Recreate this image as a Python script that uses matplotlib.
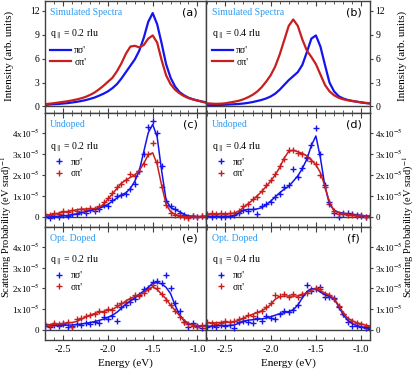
import numpy as np
import matplotlib
matplotlib.use('Agg')
import matplotlib.pyplot as plt
from matplotlib.ticker import MultipleLocator, FuncFormatter

plt.rcParams['font.family'] = ['Liberation Serif', 'DejaVu Serif']
plt.rcParams['mathtext.fontset'] = 'stix'

# energy grid (eV)
energy = np.round(np.linspace(-2.70, -0.90, 37), 2)

# simulated spectra (arb. units)
sim_a_pisig = [0.2, 0.25, 0.28, 0.32, 0.37, 0.42, 0.5, 0.58, 0.68, 0.8, 0.95, 1.12, 1.35, 1.6, 1.9,
               2.3, 2.8, 3.5, 4.3, 5.1, 5.9, 7.0, 8.6, 10.6, 11.7, 10.3, 7.9, 5.3, 3.6, 2.5, 1.8,
               1.4, 1.1, 0.9, 0.75, 0.62, 0.52]
sim_a_sigpi = [0.3, 0.35, 0.42, 0.5, 0.58, 0.66, 0.76, 0.88, 1.02, 1.2, 1.45, 1.75, 2.15, 2.6, 3.1,
               3.6, 4.4, 5.4, 6.6, 7.5, 7.6, 7.4, 7.7, 8.5, 8.9, 8.0, 5.8, 3.9, 2.8, 2.1, 1.65,
               1.3, 1.05, 0.88, 0.74, 0.6, 0.45]
sim_b_pisig = [0.15, 0.16, 0.18, 0.2, 0.22, 0.25, 0.28, 0.32, 0.37, 0.45, 0.55, 0.68, 0.82, 1.0, 1.25,
               1.6, 2.1, 2.7, 3.3, 3.8, 4.3, 5.2, 6.8, 8.5, 8.9, 7.5, 5.2, 3.0, 1.9, 1.3, 1.0,
               0.82, 0.7, 0.6, 0.5, 0.42, 0.36]
sim_b_sigpi = [0.4, 0.35, 0.33, 0.35, 0.4, 0.5, 0.6, 0.72, 0.9, 1.15, 1.45, 1.85, 2.4, 3.1, 3.9,
               5.0, 6.5, 8.3, 10.1, 10.9, 10.1, 8.4, 7.0, 6.2, 5.3, 4.0, 2.7, 1.9, 1.4, 1.1, 0.9,
               0.78, 0.68, 0.6, 0.52, 0.45, 0.4]

# scattering probability, units of 1e-5 (eV srad)^-1 : fits and data points
c_fit_pisig = [0.0, 0.0, 0.02, 0.03, 0.05, 0.07, 0.1, 0.15, 0.2, 0.25, 0.3, 0.37, 0.42, 0.48, 0.6,
               0.75, 0.9, 1.05, 1.15, 1.35, 1.7, 2.2, 3.1, 4.0, 4.4, 3.8, 2.2, 0.8, 0.45, 0.35, 0.25,
               0.12, 0.05, 0.03, 0.02, 0.02, 0.03]
c_fit_sigpi = [0.08, 0.1, 0.14, 0.18, 0.22, 0.26, 0.3, 0.34, 0.37, 0.38, 0.38, 0.4, 0.45, 0.6, 0.85,
               1.1, 1.35, 1.6, 1.75, 1.88, 2.0, 2.2, 2.55, 2.95, 3.05, 2.5, 1.5, 0.6, 0.25, 0.12, 0.06,
               0.02, 0.0, 0.0, 0.0, 0.0, 0.02]
c_dat_pisig = [0.0, -0.03, 0.03, 0.0, 0.08, 0.05, 0.15, 0.12, 0.25, 0.2, 0.35, 0.3, 0.4, 0.55, 0.5,
               0.8, 1.0, 1.05, 1.1, 1.35, 1.55, 2.2, 3.0, 4.3, 4.55, 4.0, 2.4, 0.75, 0.5, 0.4, 0.2,
               0.08, 0.0, 0.05, -0.02, 0.05, 0.0]
c_dat_sigpi = [0.12, 0.1, 0.18, 0.15, 0.28, 0.25, 0.35, 0.3, 0.4, 0.35, 0.42, 0.38, 0.5, 0.7, 0.9,
               1.15, 1.4, 1.55, 1.75, 2.05, 1.95, 2.2, 2.5, 3.0, 3.5, 2.6, 1.4, 0.55, 0.2, 0.1, 0.05,
               0.0, -0.05, 0.05, 0.0, 0.05, 0.05]

d_fit_pisig = [0.03, 0.03, 0.03, 0.03, 0.03, 0.03, 0.06, 0.18, 0.32, 0.36, 0.35, 0.38, 0.44, 0.58, 0.75,
               0.95, 1.15, 1.32, 1.45, 1.7, 1.95, 2.3, 2.75, 3.4, 3.85, 2.8, 1.45, 0.6, 0.32, 0.22, 0.18,
               0.14, 0.12, 0.1, 0.07, 0.05, 0.03]
d_fit_sigpi = [0.13, 0.14, 0.14, 0.15, 0.15, 0.16, 0.18, 0.28, 0.45, 0.62, 0.8, 1.0, 1.2, 1.45, 1.7,
               2.0, 2.35, 2.8, 3.12, 3.17, 3.1, 3.02, 2.9, 2.7, 2.48, 2.1, 1.45, 0.7, 0.3, 0.2, 0.15,
               0.12, 0.1, 0.08, 0.06, 0.05, 0.04]
d_dat_pisig = [0.05, 0.0, 0.05, 0.0, 0.0, 0.05, 0.1, 0.2, 0.35, 0.3, 0.4, 0.12, 0.5, 0.6, 0.7,
               0.95, 1.1, 1.4, 1.5, 2.3, 1.9, 2.35, 2.8, 3.4, 4.25, 3.0, 1.5, 0.7, 0.2, 0.0, 0.15,
               0.2, 0.15, 0.1, 0.05, 0.0, 0.05]
d_dat_sigpi = [0.15, 0.2, 0.15, 0.2, 0.15, 0.2, 0.2, 0.3, 0.5, 0.6, 0.85, 0.95, 1.25, 1.5, 1.75,
               2.05, 2.4, 2.75, 3.2, 3.2, 3.05, 3.0, 2.85, 2.65, 2.5, 2.0, 1.4, 0.6, 0.3, 0.15, 0.2,
               0.1, 0.1, 0.05, 0.1, 0.0, 0.05]

e_fit_pisig = [0.28, 0.26, 0.25, 0.24, 0.24, 0.24, 0.25, 0.27, 0.3, 0.33, 0.37, 0.41, 0.47, 0.53, 0.62,
               0.72, 0.86, 1.05, 1.25, 1.4, 1.55, 1.72, 1.88, 2.05, 2.25, 2.28, 2.22, 2.05, 1.75, 1.2, 0.75,
               0.45, 0.3, 0.25, 0.22, 0.2, 0.2]
e_fit_sigpi = [0.24, 0.26, 0.28, 0.3, 0.32, 0.34, 0.37, 0.42, 0.52, 0.63, 0.72, 0.8, 0.85, 0.9, 0.95,
               1.0, 1.12, 1.25, 1.4, 1.52, 1.62, 1.7, 1.78, 1.95, 2.08, 1.95, 1.72, 1.5, 1.2, 0.95, 0.7,
               0.48, 0.33, 0.25, 0.22, 0.2, 0.2]
e_dat_pisig = [0.2, 0.15, 0.25, 0.2, 0.3, 0.15, 0.2, 0.3, 0.25, 0.35, 0.3, 0.4, 0.35, 0.65, 0.55,
               0.7, 0.45, 1.1, 1.2, 1.35, 1.5, 1.7, 1.95, 2.0, 2.3, 2.35, 2.25, 2.65, 2.0, 1.3, 0.9,
               0.4, 0.15, 0.35, 0.2, 0.1, 0.25]
e_dat_sigpi = [0.3, 0.2, 0.35, 0.3, 0.35, 0.4, 0.16, 0.55, 0.6, 0.7, 0.75, 0.8, 0.9, 0.85, 1.0,
               0.95, 1.2, 1.3, 1.35, 1.5, 1.7, 1.65, 1.8, 1.95, 2.15, 2.0, 1.75, 1.45, 1.2, 0.9, 0.65,
               0.4, 0.3, 0.2, 0.15, 0.25, 0.1]

f_fit_pisig = [0.19, 0.2, 0.21, 0.22, 0.22, 0.23, 0.25, 0.33, 0.43, 0.48, 0.5, 0.52, 0.54, 0.58, 0.64,
               0.72, 0.79, 0.84, 0.89, 0.98, 1.2, 1.55, 1.85, 1.98, 1.98, 1.82, 1.7, 1.62, 1.5, 1.15, 0.75,
               0.48, 0.32, 0.22, 0.16, 0.12, 0.1]
f_fit_sigpi = [0.35, 0.35, 0.36, 0.37, 0.38, 0.38, 0.4, 0.48, 0.58, 0.68, 0.76, 0.84, 0.93, 1.05, 1.23,
               1.48, 1.6, 1.63, 1.64, 1.63, 1.64, 1.7, 1.79, 1.92, 1.99, 1.9, 1.77, 1.68, 1.52, 1.2, 0.85,
               0.58, 0.45, 0.36, 0.3, 0.24, 0.2]
f_dat_pisig = [0.15, 0.2, 0.15, 0.25, 0.2, 0.25, 0.1, 0.4, 0.45, 0.4, 0.35, 0.6, 0.45, 0.7, 0.6,
               0.55, 0.8, 0.9, 0.85, 0.95, 1.2, 1.7, 2.15, 1.9, 1.95, 2.05, 1.6, 1.6, 1.55, 1.1, 0.8,
               0.4, 0.2, 0.2, 0.15, 0.1, 0.05]
f_dat_sigpi = [0.4, 0.35, 0.3, 0.35, 0.45, 0.4, 0.45, 0.55, 0.6, 0.75, 0.7, 0.85, 0.9, 1.1, 1.3,
               1.7, 1.65, 1.75, 1.6, 1.75, 1.6, 1.75, 1.8, 1.95, 2.0, 1.95, 1.75, 1.7, 1.5, 1.15, 0.8,
               0.55, 0.45, 0.35, 0.3, 0.2, 0.15]

panel_letters = ['(a)', '(b)', '(c)', '(d)', '(e)', '(f)']
row_titles = ['Simulated Spectra', 'Undoped', 'Opt. Doped']
q_labels = [r'q$_{\parallel}$ = 0.2 rlu', r'q$_{\parallel}$ = 0.4 rlu']

blue = '#1414F0'
red = '#C81E1E'
title_color = '#2A9BF5'
frame_color = '#404040'

fig = plt.figure(figsize=(4.16, 3.70), dpi=100)

col_x = [0.107, 0.496]
col_w = [0.389, 0.394]
row_y = [0.695, 0.387, 0.081]
row_h = [0.302, 0.308, 0.306]

sims = [(sim_a_pisig, sim_a_sigpi), (sim_b_pisig, sim_b_sigpi)]
meas = [[(c_fit_pisig, c_fit_sigpi, c_dat_pisig, c_dat_sigpi),
         (d_fit_pisig, d_fit_sigpi, d_dat_pisig, d_dat_sigpi)],
        [(e_fit_pisig, e_fit_sigpi, e_dat_pisig, e_dat_sigpi),
         (f_fit_pisig, f_fit_sigpi, f_dat_pisig, f_dat_sigpi)]]

sci_fmt = FuncFormatter(lambda v, p: '0' if abs(v) < 1e-9 else '%dx10$^{-5}$' % round(v))

for r in range(3):
    for c in range(2):
        ax = fig.add_axes([col_x[c], row_y[r], col_w[c], row_h[r]])
        if r == 0:
            pisig, sigpi = sims[c]
            ax.plot(energy, pisig, color=blue, lw=1.6, label="πσ'")
            ax.plot(energy, sigpi, color=red, lw=1.6, label="σπ'")
            ax.set_ylim(-0.8, 13.2)
            ax.yaxis.set_major_locator(MultipleLocator(3))
            ysize = 7
        else:
            fit_p, fit_s, dat_p, dat_s = meas[r - 1][c]
            ax.plot(energy, dat_p, '+', color=blue, ms=4.5, mew=1.0, label="πσ'")
            ax.plot(energy, dat_s, '+', color=red, ms=4.5, mew=1.0, label="σπ'")
            ax.plot(energy, fit_p, color=blue, lw=1.1)
            ax.plot(energy, fit_s, color=red, lw=1.1)
            ax.set_ylim(-0.47, 4.95)
            ax.yaxis.set_major_locator(MultipleLocator(1))
            ax.yaxis.set_major_formatter(sci_fmt)
            ysize = 6.5
        ax.axhline(0, color=frame_color, lw=1.0, zorder=0)
        ax.set_xlim(-2.71, -0.90)
        ax.xaxis.set_major_locator(MultipleLocator(0.5))
        ax.xaxis.set_minor_locator(MultipleLocator(0.1))
        ax.xaxis.set_major_formatter(FuncFormatter(lambda v, p: '%.1f' % v))
        for s in ax.spines.values():
            s.set_color(frame_color)
            s.set_linewidth(1.0)
        ax.tick_params(axis='x', which='both', direction='in', top=True, bottom=True,
                       labelbottom=(r == 2), labelsize=7.5, colors=frame_color, labelcolor='black')
        ax.tick_params(axis='x', which='major', length=3.5)
        ax.tick_params(axis='x', which='minor', length=2)
        ax.tick_params(axis='y', direction='out', length=2.5, left=(c == 0), right=(c == 1),
                       labelleft=(c == 0), labelright=(c == 1), labelsize=ysize, pad=1.2,
                       colors=frame_color, labelcolor='black')

        ax.text(0.035, 0.895, row_titles[r], transform=ax.transAxes, color=title_color,
                fontsize=7, va='center', ha='left')
        ax.text(0.9, 0.895, panel_letters[2 * r + c], transform=ax.transAxes,
                fontsize=8, va='center', ha='center', family='DejaVu Sans')
        ax.text(0.035, 0.70, q_labels[c], transform=ax.transAxes, fontsize=7,
                va='center', ha='left')
        if r == 0:
            ax.legend(loc='upper left', bbox_to_anchor=(0.01, 0.63), frameon=False,
                      fontsize=7, handlelength=2.2, handletextpad=0.3, labelspacing=0.25,
                      borderaxespad=0)
        else:
            ax.legend(loc='upper left', bbox_to_anchor=(0.02, 0.64), frameon=False,
                      fontsize=7, handlelength=1.6, handletextpad=0.4, labelspacing=0.25,
                      borderaxespad=0)
        if r == 2:
            ax.set_xlabel('Energy (eV)', fontsize=8, labelpad=3)

fig.text(0.022, 1 - 56 / 370, 'Intensity (arb. units)', rotation=90, va='center', ha='center', fontsize=8)
fig.text(0.968, 1 - 56 / 370, 'Intensity (arb. units)', rotation=90, va='center', ha='center', fontsize=8)
fig.text(0.015, 0.386, 'Scattering Probability (eV srad)$^{-1}$', rotation=90,
         va='center', ha='center', fontsize=7.5)
fig.text(0.982, 0.386, 'Scattering Probability (eV srad)$^{-1}$', rotation=90,
         va='center', ha='center', fontsize=7.5)

fig.savefig('out.png', dpi=100)
